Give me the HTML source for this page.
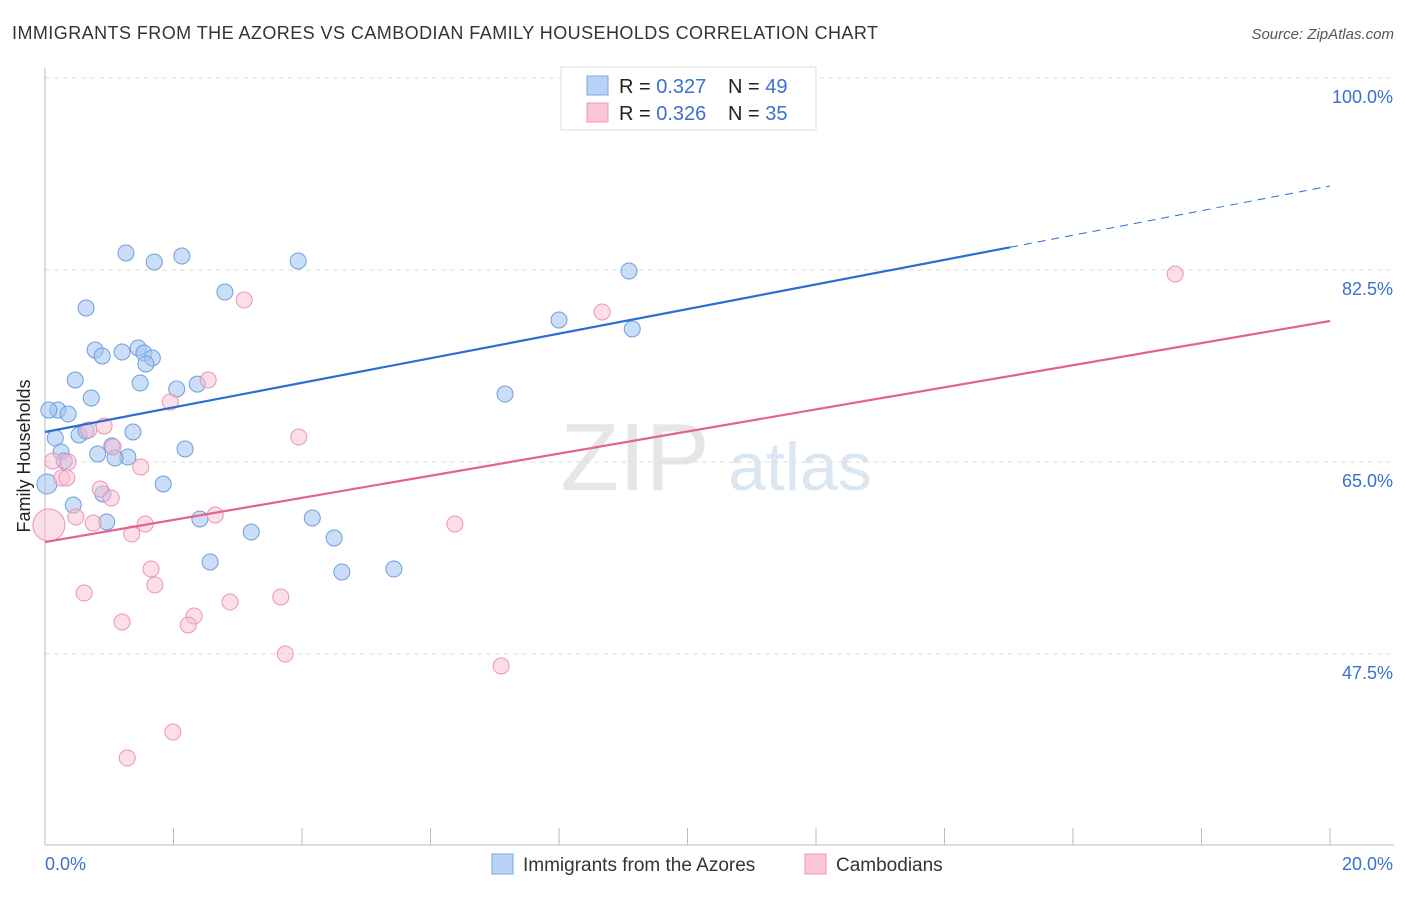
<!DOCTYPE html>
<html><head><meta charset="utf-8"><style>
body{margin:0;background:#fff;font-family:"Liberation Sans",sans-serif;}
svg text{font-family:"Liberation Sans",sans-serif;}
</style></head><body>
<svg id="chart" width="1406" height="892">
<text x="12" y="39" font-size="18" fill="#333" textLength="866">IMMIGRANTS FROM THE AZORES VS CAMBODIAN FAMILY HOUSEHOLDS CORRELATION CHART</text>
<text x="1394" y="39" font-size="15" fill="#555" font-style="italic" text-anchor="end">Source: ZipAtlas.com</text>
<text x="30" y="456" font-size="18" fill="#222" text-anchor="middle" transform="rotate(-90 30 456)">Family Households</text>
<g><text x="635" y="490" font-size="96" fill="#e6e6e6" text-anchor="middle" font-family="Liberation Serif">ZIP</text><text x="800" y="490" font-size="68" fill="#dbe6f3" text-anchor="middle">atlas</text></g>
<g id="grid"></g><g id="marks"></g>
<g>
<rect x="561" y="67" width="255" height="63" fill="#fff" stroke="#ddd"/>
<rect x="587" y="76" width="21" height="19" fill="#b8d3f5" stroke="#7aa7e3"/>
<rect x="587" y="103" width="21" height="19" fill="#fbc6d6" stroke="#ef97b3"/>
<text x="619" y="93" font-size="20" fill="#222">R = <tspan fill="#3a70d0">0.327</tspan></text>
<text x="728" y="93" font-size="20" fill="#222">N = <tspan fill="#3a70d0">49</tspan></text>
<text x="619" y="120" font-size="20" fill="#222">R = <tspan fill="#3a70d0">0.326</tspan></text>
<text x="728" y="120" font-size="20" fill="#222">N = <tspan fill="#3a70d0">35</tspan></text>
</g>
<g>
<rect x="492" y="854" width="21" height="20" fill="#b8d3f5" stroke="#7aa7e3"/>
<text x="523" y="871" font-size="19" fill="#333">Immigrants from the Azores</text>
<rect x="805" y="854" width="21" height="20" fill="#fbc6d6" stroke="#ef97b3"/>
<text x="836" y="871" font-size="19" fill="#333">Cambodians</text>
</g>
</svg>
<script>
const yTicks=[100,82.5,65,47.5];
const yTickLabels=["100.0%","82.5%","65.0%","47.5%"];
const xTickLabels=["0.0%","20.0%"];
const blueX=[11.05,1.26,1.70,2.13,3.94,9.09,2.80,0.64,8.00,9.14,0.78,1.20,1.45,0.89,1.54,1.67,1.57,0.47,1.48,2.05,2.37,7.16,0.72,0.20,0.36,0.06,0.16,0.53,0.64,1.37,1.04,2.18,0.25,0.82,1.29,1.09,0.30,1.84,0.03,0.90,0.44,0.96,2.41,3.21,4.16,4.50,2.57,4.62,5.43];
const blueY=[99.82,84.05,83.23,83.77,83.32,82.41,80.49,79.03,77.94,77.12,75.20,75.02,75.39,74.66,74.93,74.48,73.93,72.47,72.20,71.65,72.10,71.19,70.83,69.73,69.37,69.73,67.18,67.46,67.82,67.73,66.46,66.18,65.91,65.73,65.45,65.36,65.09,62.99,62.99,62.08,61.07,59.53,59.80,58.61,59.89,58.07,55.88,54.97,55.24];
const pinkX=[17.59,8.67,3.10,2.54,1.95,3.95,0.92,0.68,1.06,0.36,0.12,1.49,0.26,0.34,0.86,1.03,0.48,0.75,1.56,1.35,2.65,6.38,0.06,1.65,1.71,0.61,2.88,3.67,2.32,2.23,1.20,3.74,7.10,1.99,1.28];
const pinkY=[82.13,78.67,79.76,72.47,70.46,67.27,68.28,67.91,66.36,64.99,65.09,64.54,63.54,63.54,62.53,61.71,59.98,59.43,59.34,58.43,60.16,59.34,59.25,55.24,53.78,53.05,52.23,52.69,50.96,50.14,50.41,47.49,46.40,40.38,38.01];
const blueLine=[67.73,90.15];
const pinkLine=[57.70,77.85];
const NS="http://www.w3.org/2000/svg";
const xs=v=>45+v/20*1285;
const ys=v=>78+(100-v)*10.97;
function mk(tag,attrs,parent){const e=document.createElementNS(NS,tag);for(const k in attrs)e.setAttribute(k,attrs[k]);parent.appendChild(e);return e;}
const grid=document.getElementById('grid'),marks=document.getElementById('marks');
yTicks.forEach((t,i)=>{
  const l=mk('line',{x1:45,x2:1394,y1:ys(t),y2:ys(t),stroke:'#ddd','stroke-dasharray':'5,4'},grid);
  
  
  const tx=mk('text',{x:1393,y:ys(t)+25,'font-size':18,fill:'#3a70d0','text-anchor':'end'},grid);
  tx.textContent=yTickLabels[i];
  
  
});
const ax=mk('line',{x1:45,x2:45,y1:68,y2:845,stroke:'#bbb'},grid);


const bx=mk('line',{x1:45,x2:1394,y1:845,y2:845,stroke:'#bbb'},grid);


for(let i=0;i<=10;i++){
  const t=mk('line',{x1:xs(i*2),x2:xs(i*2),y1:828,y2:845,stroke:'#bbb'},grid);
  
  
}
[[0,'start',45],[20,'end',1393]].forEach((d,i)=>{
  const tx=mk('text',{x:d[2],y:870,'font-size':18,fill:'#3a70d0','text-anchor':d[1]},grid);
  tx.textContent=xTickLabels[i];
  
  
});
blueX.forEach((x,i)=>{
  const c=mk('circle',{cx:xs(x),cy:ys(blueY[i]),r:(i==38?10:8),fill:'rgba(160,195,240,0.55)',stroke:'#6f9edc','stroke-width':1},marks);
  
  
});
pinkX.forEach((x,i)=>{
  const c=mk('circle',{cx:xs(x),cy:ys(pinkY[i]),r:(i==22?16:8),fill:'rgba(250,190,210,0.5)',stroke:'#ec94b1','stroke-width':1},marks);
  
  
});
const bAt=x=>blueLine[0]+(blueLine[1]-blueLine[0])*x/20;
const b1=mk('line',{x1:xs(0),y1:ys(bAt(0)),x2:xs(15.02),y2:ys(bAt(15.02)),stroke:'#2a6dd3','stroke-width':2.2},marks);


const b2=mk('line',{x1:xs(15.02),y1:ys(bAt(15.02)),x2:xs(20),y2:ys(bAt(20)),stroke:'#2a6dd3','stroke-width':1,'stroke-dasharray':'8,6'},marks);


const p1=mk('line',{x1:xs(0),y1:ys(pinkLine[0]),x2:xs(20),y2:ys(pinkLine[1]),stroke:'#e4628f','stroke-width':2.2},marks);


</script>
</body></html>
